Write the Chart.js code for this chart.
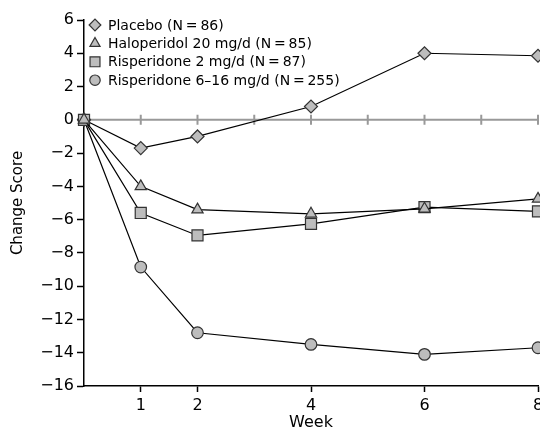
<!DOCTYPE html>
<html>
<head>
<meta charset="utf-8">
<script src="https://cdn.jsdelivr.net/npm/chart.js@4/dist/chart.umd.min.js"></script>
<style>
  html, body { margin: 0; padding: 0; background: #fff; overflow: hidden; }
</style>
</head>
<body>
<canvas id="chart" width="547" height="432"></canvas>
<script>
var weeks = [0, 1, 2, 4, 6, 8];
var weekTicks = [1, 2, 4, 6, 8];
var zeroLineTicks = [1, 2, 3, 4, 5, 6, 7, 8];

var seriesNames = [
    'Placebo (N\u2009=\u200986)',
    'Haloperidol 20 mg/d (N\u2009=\u200985)',
    'Risperidone 2 mg/d (N\u2009=\u200987)',
    'Risperidone 6\u201316 mg/d (N\u2009=\u2009255)'
];
var placebo = [0, -1.7, -1.0, 0.8, 4.0, 3.85];
var haloperidol = [0, -4.0, -5.4, -5.65, -5.35, -4.75];
var risperidone2 = [0, -5.6, -6.95, -6.25, -5.25, -5.5];
var risperidone616 = [0, -8.85, -12.8, -13.5, -14.1, -13.7];

var markerFill = '#bdbdbd';
var markerEdge = '#333333';
var fontFamily = '"DejaVu Sans", "Liberation Sans", Arial, sans-serif';

function toPoints(values) {
    return values.map(function (v, i) {
        return { x: weeks[i], y: v };
    });
}

function makeSet(label, values, style, radius, order) {
    return {
        label: label,
        data: toPoints(values),
        borderColor: '#000',
        borderWidth: 1.2,
        pointStyle: style,
        pointRadius: radius,
        pointBackgroundColor: markerFill,
        pointBorderColor: markerEdge,
        pointBorderWidth: 1.2,
        fill: false,
        tension: 0,
        clip: false,
        order: order
    };
}

// gray zero line with a tick at every week
var zeroLine = {
    id: 'zeroLine',
    beforeDatasetsDraw: function (chart) {
        var ctx = chart.ctx, area = chart.chartArea;
        var xs = chart.scales.x, ys = chart.scales.y;
        var y0 = ys.getPixelForValue(0);
        ctx.save();
        ctx.strokeStyle = '#999';
        ctx.lineWidth = 2;
        ctx.beginPath();
        ctx.moveTo(area.left, y0);
        ctx.lineTo(area.right, y0);
        zeroLineTicks.forEach(function (w) {
            var x = xs.getPixelForValue(w);
            ctx.moveTo(x, y0 - 5);
            ctx.lineTo(x, y0 + 5);
        });
        ctx.stroke();
        ctx.restore();
    }
};

// legend in the upper left of the plot
var boxLegend = {
    id: 'boxLegend',
    afterDraw: function (chart) {
        var ctx = chart.ctx;
        var left = 95, top = 25, rowH = 18.4;
        ctx.save();
        ctx.font = '14px ' + fontFamily;
        ctx.textBaseline = 'middle';
        chart.data.datasets.forEach(function (ds, i) {
            var y = top + i * rowH;
            ctx.fillStyle = markerFill;
            ctx.strokeStyle = markerEdge;
            ctx.lineWidth = 1.2;
            Chart.helpers.drawPoint(ctx, { pointStyle: ds.pointStyle, radius: ds.pointRadius * 0.9, rotation: 0, borderWidth: 1.2 }, left, y);
            ctx.fillStyle = '#000';
            ctx.fillText(ds.label, left + 13, y + 1);
        });
        ctx.restore();
    }
};

var ctx = document.getElementById('chart').getContext('2d');
var myChart = new Chart(ctx, {
    type: 'line',
    data: {
        datasets: [
            makeSet(seriesNames[0], placebo, 'rectRot', 6.5, 2),
            makeSet(seriesNames[1], haloperidol, 'triangle', 6.5, 0),
            makeSet(seriesNames[2], risperidone2, 'rect', 7.8, 1),
            makeSet(seriesNames[3], risperidone616, 'circle', 5.8, 3)
        ]
    },
    options: {
        responsive: false,
        animation: false,
        layout: { padding: { top: 20, right: 3, left: 0, bottom: 0 } },
        plugins: {
            legend: { display: false },
            tooltip: { enabled: false }
        },
        scales: {
            x: {
                type: 'linear',
                min: 0,
                max: 8,
                afterBuildTicks: function (scale) {
                    scale.ticks = weekTicks.map(function (v) { return { value: v }; });
                },
                afterFit: function (scale) {
                    scale.height = 46;
                    scale.paddingRight = 0;
                    scale.paddingLeft = 0;
                },
                border: { display: true, color: '#000', width: 1.5 },
                grid: { drawOnChartArea: false, drawTicks: true, tickLength: 6, tickColor: '#000', tickWidth: 1.5 },
                ticks: {
                    color: '#000',
                    padding: 4,
                    font: { family: fontFamily, size: 16 },
                    autoSkip: false,
                    maxRotation: 0
                },
                title: {
                    display: true,
                    text: 'Week',
                    color: '#000',
                    font: { family: fontFamily, size: 16 },
                    padding: { top: 0, bottom: 0 }
                }
            },
            y: {
                min: -16,
                max: 6,
                afterFit: function (scale) {
                    scale.width = 84;
                    scale.paddingTop = 0;
                    scale.paddingBottom = 0;
                },
                border: { display: true, color: '#000', width: 1.5 },
                grid: { drawOnChartArea: false, drawTicks: true, tickLength: 7, tickColor: '#000', tickWidth: 1.5 },
                ticks: {
                    stepSize: 2,
                    color: '#000',
                    padding: 3,
                    font: { family: fontFamily, size: 16 },
                    callback: function (v) {
                        return v < 0 ? '\u2212' + Math.abs(v) : String(v);
                    }
                },
                title: {
                    display: true,
                    text: 'Change Score',
                    color: '#000',
                    font: { family: fontFamily, size: 15 },
                    padding: { top: 9, bottom: 0 }
                }
            }
        }
    },
    plugins: [zeroLine, boxLegend]
});
</script>
</body>
</html>
